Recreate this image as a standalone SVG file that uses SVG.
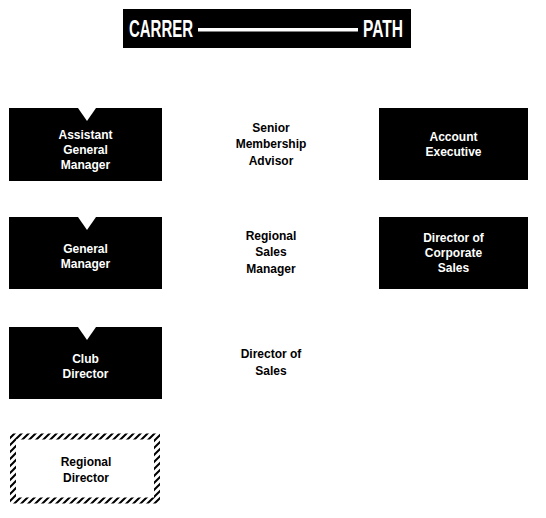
<svg xmlns="http://www.w3.org/2000/svg" width="546" height="518" viewBox="0 0 546 518">
<defs>
<pattern id="hatch" patternUnits="userSpaceOnUse" width="7" height="7">
<path d="M-1.75,8.75 L8.75,-1.75 M-1.75,1.75 L1.75,-1.75 M5.25,8.75 L8.75,5.25" stroke="#000" stroke-width="2"/>
</pattern>
</defs>
<style>
.box{fill:#000}
.notch{fill:#fff}
.wt{fill:#fff;font-family:"Liberation Sans",Arial,sans-serif;font-weight:bold;font-size:12px;text-anchor:middle}
.bt{fill:#000;font-family:"Liberation Sans",Arial,sans-serif;font-weight:bold;font-size:12px;text-anchor:middle}
.title{fill:#fff;font-family:"Liberation Sans",Arial,sans-serif;font-weight:bold;font-size:23.5px}
</style>
<rect width="546" height="518" fill="#fff"/>
<g id="title">
<rect x="123" y="9" width="288" height="39" fill="#000"/>
<text class="title" x="129" y="37" textLength="64" lengthAdjust="spacingAndGlyphs">CARRER</text>
<rect x="198" y="28" width="160" height="3.5" fill="#fff"/>
<text class="title" x="363" y="37" textLength="40" lengthAdjust="spacingAndGlyphs">PATH</text>
</g>
<g id="connectors"></g>
<g id="assistant-general-manager">
<rect class="box" x="9" y="108" width="153" height="73"/>
<polygon class="notch" points="78,108 96,108 87,121"/>
<text class="wt" x="85.5" y="139">Assistant</text>
<text class="wt" x="85.5" y="154">General</text>
<text class="wt" x="85.5" y="169">Manager</text>
</g>
<g id="general-manager">
<rect class="box" x="9" y="217" width="153" height="72"/>
<polygon class="notch" points="78,217 96,217 87,230"/>
<text class="wt" x="85.5" y="253">General</text>
<text class="wt" x="85.5" y="268">Manager</text>
</g>
<g id="club-director">
<rect class="box" x="9" y="327" width="153" height="72"/>
<polygon class="notch" points="78,327 96,327 87,340"/>
<text class="wt" x="85.5" y="363">Club</text>
<text class="wt" x="85.5" y="378">Director</text>
</g>
<g id="regional-director">
<rect x="13" y="436.5" width="144" height="64" fill="none" stroke="url(#hatch)" stroke-width="6"/>
<text class="bt" x="86" y="466">Regional</text>
<text class="bt" x="86" y="482">Director</text>
</g>
<g id="senior-membership-advisor">
<text class="bt" x="271" y="132">Senior</text>
<text class="bt" x="271" y="148">Membership</text>
<text class="bt" x="271" y="165">Advisor</text>
</g>
<g id="regional-sales-manager">
<text class="bt" x="271" y="240">Regional</text>
<text class="bt" x="271" y="256">Sales</text>
<text class="bt" x="271" y="273">Manager</text>
</g>
<g id="director-of-sales">
<text class="bt" x="271" y="358">Director of</text>
<text class="bt" x="271" y="375">Sales</text>
</g>
<g id="account-executive">
<rect class="box" x="379" y="108" width="149" height="72"/>
<text class="wt" x="453.5" y="141">Account</text>
<text class="wt" x="453.5" y="156">Executive</text>
</g>
<g id="director-of-corporate-sales">
<rect class="box" x="379" y="217" width="149" height="72"/>
<text class="wt" x="453.5" y="242">Director of</text>
<text class="wt" x="453.5" y="257">Corporate</text>
<text class="wt" x="453.5" y="272">Sales</text>
</g>
</svg>
